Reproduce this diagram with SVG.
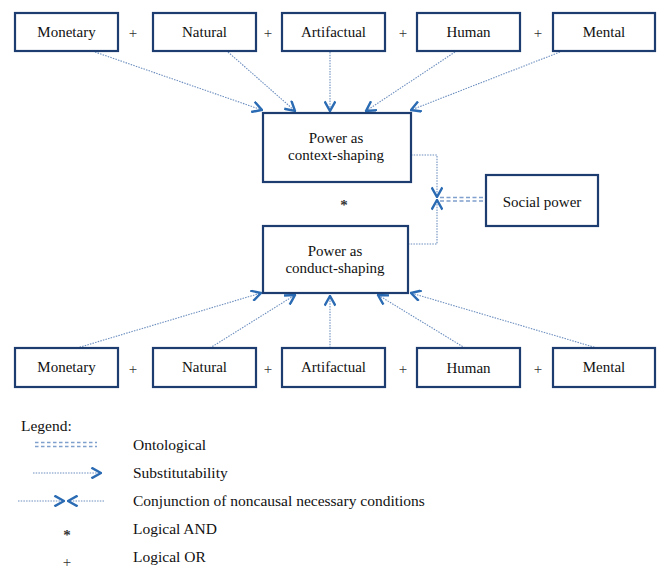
<svg xmlns="http://www.w3.org/2000/svg" width="659" height="580" viewBox="0 0 659 580">
<style>
.box{fill:#fff;stroke:#1d3c70;stroke-width:2.2}
text{font-family:'Liberation Serif','DejaVu Serif',serif;font-size:15px;fill:#111}
.t{text-anchor:middle}
.lg{font-size:15.5px}
.dot{fill:none;stroke:#6d8fbf;stroke-width:1.1;stroke-dasharray:1.5 1.2}
.dash{fill:none;stroke:#7f9fcc;stroke-width:1.3;stroke-dasharray:4 2.5}
.sym{text-anchor:middle;fill:#333;font-size:15px}
</style>
<defs>
<marker id="chev" markerWidth="12" markerHeight="12" refX="9" refY="5" orient="auto" markerUnits="userSpaceOnUse" viewBox="0 0 10 10">
<path d="M1,0.5 L9,5 L1,9.5" fill="none" stroke="#2a6bb3" stroke-width="2"/>
</marker>
</defs>
<rect width="659" height="580" fill="#fff"/>

<g id="connectors">
<path class="dot" d="M95,52 L262,110" marker-end="url(#chev)"/>
<path class="dot" d="M228,52 L295,111" marker-end="url(#chev)"/>
<path class="dot" d="M330,52 L330,111" marker-end="url(#chev)"/>
<path class="dot" d="M455,52 L366,111" marker-end="url(#chev)"/>
<path class="dot" d="M560,52 L411,110" marker-end="url(#chev)"/>
<path class="dot" d="M77,348 L261,293" marker-end="url(#chev)"/>
<path class="dot" d="M210,348 L295,295" marker-end="url(#chev)"/>
<path class="dot" d="M330,348 L330,296" marker-end="url(#chev)"/>
<path class="dot" d="M465,348 L378,295" marker-end="url(#chev)"/>
<path class="dot" d="M597,348 L411,293" marker-end="url(#chev)"/>
<path class="dot" d="M411,155 H437 V197" marker-end="url(#chev)"/>
<path class="dot" d="M408,244 H437 V200" marker-end="url(#chev)"/>
<path class="dash" d="M440,197.5 H486 M440,201 H486"/>
</g>

<g id="top-monetary"><rect class="box" x="15" y="13" width="103" height="38"/><text class="t" x="66.5" y="37">Monetary</text></g>
<g id="top-natural"><rect class="box" x="153" y="13" width="103" height="38"/><text class="t" x="204.5" y="37">Natural</text></g>
<g id="top-artifactual"><rect class="box" x="282" y="13" width="103" height="38"/><text class="t" x="333.5" y="37">Artifactual</text></g>
<g id="top-human"><rect class="box" x="417" y="13" width="103" height="38"/><text class="t" x="468.5" y="37">Human</text></g>
<g id="top-mental"><rect class="box" x="553" y="13" width="102" height="38"/><text class="t" x="604" y="37">Mental</text></g>

<g id="top-ors">
<text class="sym" x="133" y="38">+</text>
<text class="sym" x="268" y="38">+</text>
<text class="sym" x="403" y="38">+</text>
<text class="sym" x="538" y="38">+</text>
</g>

<g id="context"><rect class="box" x="263" y="113" width="148" height="69"/><text class="t" x="336" y="143">Power as</text><text class="t" x="336" y="160">context-shaping</text></g>
<g id="and"><text class="sym" x="344" y="210" style="font-weight:bold">*</text></g>
<g id="conduct"><rect class="box" x="263" y="226" width="145" height="67"/><text class="t" x="335" y="256">Power as</text><text class="t" x="335" y="273">conduct-shaping</text></g>
<g id="social"><rect class="box" x="486" y="175" width="112" height="51"/><text class="t" x="542" y="207">Social power</text></g>

<g id="bot-monetary"><rect class="box" x="15" y="348" width="103" height="39"/><text class="t" x="66.5" y="372">Monetary</text></g>
<g id="bot-natural"><rect class="box" x="153" y="348" width="103" height="39"/><text class="t" x="204.5" y="372">Natural</text></g>
<g id="bot-artifactual"><rect class="box" x="282" y="348" width="103" height="39"/><text class="t" x="333.5" y="372">Artifactual</text></g>
<g id="bot-human"><rect class="box" x="417" y="348" width="103" height="39"/><text class="t" x="468.5" y="373">Human</text></g>
<g id="bot-mental"><rect class="box" x="553" y="348" width="102" height="39"/><text class="t" x="604" y="372">Mental</text></g>

<g id="bot-ors">
<text class="sym" x="133" y="374">+</text>
<text class="sym" x="268" y="374">+</text>
<text class="sym" x="403" y="374">+</text>
<text class="sym" x="538" y="374">+</text>
</g>

<g id="legend">
<text class="lg" x="21" y="431">Legend:</text>
<path class="dash" d="M35,442.5 H97 M35,446.5 H97" style="stroke-dasharray:3.5 2.5"/>
<text class="lg" x="133" y="450">Ontological</text>
<path class="dot" d="M33,473 H101" marker-end="url(#chev)"/>
<text class="lg" x="133" y="478">Substitutability</text>
<path class="dot" d="M18,501 H64" marker-end="url(#chev)"/>
<path class="dot" d="M104,501 H68" marker-end="url(#chev)"/>
<text class="lg" x="133" y="506">Conjunction of noncausal necessary conditions</text>
<text class="sym" x="67" y="540" style="font-weight:bold">*</text>
<text class="lg" x="133" y="534">Logical AND</text>
<text class="sym" x="67" y="567">+</text>
<text class="lg" x="133" y="562">Logical OR</text>
</g>
</svg>
